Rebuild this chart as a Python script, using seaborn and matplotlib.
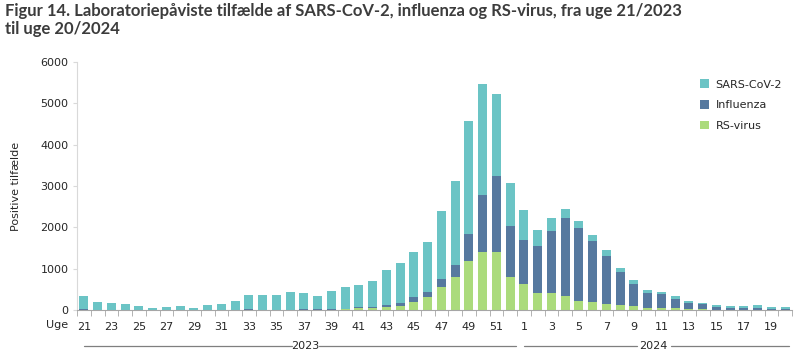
import seaborn as sns
import pandas as pd
import numpy as np
import matplotlib.pyplot as plt
import matplotlib.transforms as mtransforms

# uge 21/2023 - uge 20/2024
weeks = list(range(21, 53)) + list(range(1, 21))
rsv = [0, 0, 0, 0, 0, 0, 0, 0, 0, 0, 0, 0, 0, 0, 0, 0, 0, 0, 0, 15, 40, 50,
       80, 105, 205, 325, 545, 790, 1180, 1400, 1400, 790,
       640, 420, 400, 340, 220, 195, 145, 120, 100, 50, 50, 50, 25, 15, 5, 5, 5, 5, 0, 0]
influenza = [25, 0, 0, 0, 0, 0, 0, 0, 0, 0, 0, 0, 25, 0, 0, 0, 15, 25, 25, 20, 30, 30,
             50, 75, 120, 120, 195, 290, 660, 1390, 1850, 1240,
             1050, 1125, 1510, 1880, 1755, 1485, 1170, 805, 535, 365, 340, 220, 145, 130, 70, 45, 45, 45, 25, 25]
sars = [325, 200, 180, 155, 105, 55, 80, 105, 55, 130, 155, 225, 350, 375, 375, 445, 405, 325, 430, 510, 525, 610,
        830, 950, 1075, 1195, 1660, 2050, 2730, 2680, 1980, 1050,
        730, 390, 320, 220, 170, 125, 125, 100, 95, 75, 50, 70, 50, 25, 45, 50, 50, 70, 50, 50]

df = pd.DataFrame({"uge": [str(w) for w in weeks], "rsv": rsv, "flu": influenza, "sars": sars})
df["l2"] = df["rsv"] + df["flu"]
df["l3"] = df["l2"] + df["sars"]

c_sars = "#6BC4C5"
c_flu = "#56799F"
c_rsv = "#ABDB7C"

sns.set_style("white")
plt.rcParams["font.family"] = ["DejaVu Sans"]
fs = 8

fig = plt.figure(figsize=(8, 3.58), dpi=100)
ax = fig.add_axes([77 / 800, 1 - 310 / 358, 715 / 800, 248 / 358])

bar_kw = dict(width=0.65, saturation=1, linewidth=0, ax=ax)
sns.barplot(data=df, x="uge", y="l3", color=c_sars, label="SARS-CoV-2", **bar_kw)
sns.barplot(data=df, x="uge", y="l2", color=c_flu, label="Influenza", **bar_kw)
sns.barplot(data=df, x="uge", y="rsv", color=c_rsv, label="RS-virus", **bar_kw)

ax.set_xlim(-0.5, len(weeks) - 0.5)
ax.set_ylim(0, 6000)
ax.set_yticks(range(0, 6001, 1000))
ax.set_yticklabels([str(v) for v in range(0, 6001, 1000)], fontsize=fs)
ax.set_xticks(range(0, len(weeks), 2))
ax.set_xticklabels([str(w) for w in weeks[::2]], fontsize=fs)
ax.set_xticks(np.arange(-0.5, len(weeks), 1), minor=True)
ax.tick_params(axis="x", which="major", length=0, pad=9)
ax.tick_params(axis="x", which="minor", length=4, color="#A6A6A6", direction="out", bottom=True)
ax.tick_params(axis="y", length=3, color="#D9D9D9", left=True, pad=3)
ax.set_xlabel("")
ax.set_ylabel("Positive tilfælde", fontsize=fs, labelpad=14)
for s in ["top", "right"]:
    ax.spines[s].set_visible(False)
ax.spines["left"].set_color("#D9D9D9")
ax.spines["bottom"].set_color("#A6A6A6")

ax.text(-0.012, -0.062, "Uge", transform=ax.transAxes, ha="right", va="center", fontsize=fs)

# year labels
tr = mtransforms.blended_transform_factory(ax.transData, ax.transAxes)
yl = -0.145
ax.plot([0, 15.1], [yl, yl], color="#7F7F7F", lw=0.9, transform=tr, clip_on=False)
ax.plot([17.1, 31.4], [yl, yl], color="#7F7F7F", lw=0.9, transform=tr, clip_on=False)
ax.text(16.1, yl, "2023", transform=tr, ha="center", va="center", fontsize=fs)
ax.plot([32.0, 40.2], [yl, yl], color="#7F7F7F", lw=0.9, transform=tr, clip_on=False)
ax.plot([42.7, 51.3], [yl, yl], color="#7F7F7F", lw=0.9, transform=tr, clip_on=False)
ax.text(41.45, yl, "2024", transform=tr, ha="center", va="center", fontsize=fs)

ax.legend(loc="upper right", bbox_to_anchor=(1.0, 0.97), frameon=False, fontsize=fs,
          handlelength=0.8, handleheight=0.8, labelspacing=0.95, handletextpad=0.6)

fig.text(0.006, 0.992, "Figur 14. Laboratoriepåviste tilfælde af SARS-CoV-2, influenza og RS-virus, fra uge 21/2023\ntil uge 20/2024",
         ha="left", va="top", fontsize=12, fontweight="bold", linespacing=1.2, color="#3C3C3C",
         family=["Lato", "DejaVu Sans"])

fig.savefig("out.png", dpi=100)
